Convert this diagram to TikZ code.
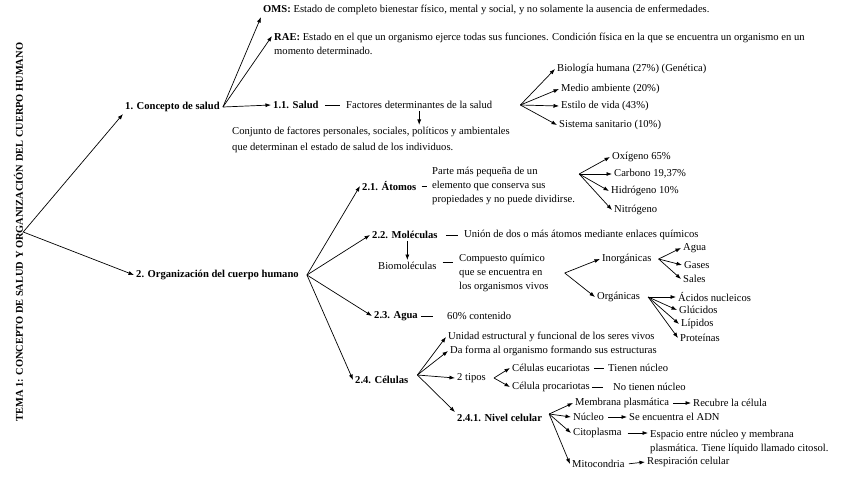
\documentclass[tikz,border=0pt]{standalone}
\usepackage{fontspec}
\setmainfont{Liberation Serif}
\usepackage{tikz}
\usetikzlibrary{arrows.meta}

\tikzset{
	txt/.style={anchor=west, inner sep=2pt, align=left},
	hd/.style={txt, font=\fontsize{10.6}{14}\selectfont\bfseries},
	arr/.style={-{Latex[length=5.5pt,width=4pt]}, line width=0.7pt},
	tie/.style={line width=0.6pt, shorten <=4pt, shorten >=4pt},
}

\begin{document}
\begin{tikzpicture}[x=1pt, y=-1pt, font=\fontsize{10.6}{14}\selectfont]
					\useasboundingbox (0,0) rectangle (848,477);
					
					\node[rotate=90, inner sep=0pt, font=\fontsize{10.4}{12}\selectfont\bfseries] (tema) at (18.5,232) {TEMA 1: CONCEPTO DE SALUD Y ORGANIZACIÓN DEL CUERPO HUMANO};
					\node[hd] (c1) at (123,107) {1. Concepto de salud};
					\node[hd] (c2) at (134,275) {2. Organización del cuerpo humano};
					\draw[arr] (tema.south) -- (c1.south west);
					\draw[arr] (tema.south) -- (c2.west);
					
					\node[txt] (oms) at (261,10) {\textbf{OMS:} Estado de completo bienestar físico, mental y social, y no solamente la ausencia de enfermedades.};
					\node[txt] (rae) at (272,44) {\textbf{RAE:} Estado en el que un organismo ejerce todas sus funciones. Condición física en la que se encuentra un organismo en un\\momento determinado.};
					\node[hd] (s11) at (271,105) {1.1. Salud};
					\node[txt] (fact) at (344,105) {Factores determinantes de la salud};
					\node[txt, font=\fontsize{10.6}{16}\selectfont] (conj) at (230,140) {Conjunto de factores personales, sociales, políticos y ambientales\\que determinan el estado de salud de los individuos.};
					\coordinate (c1o) at ([xshift=1pt]c1.east);
					\draw[arr] (c1o) -- (oms.south west);
					\draw[arr] (c1o) -- ([yshift=8pt]rae.west);
					\draw[arr] (c1o) -- (s11.west);
					\draw[tie] (s11.east) -- (fact.west);
					\draw[arr] (fact.south) -- (fact.south |- conj.north);
					
					\node[txt] (bio) at (555,69) {Biología humana (27\%) (Genética)};
					\node[txt] (medio) at (559,89) {Medio ambiente (20\%)};
					\node[txt] (estilo) at (559,106) {Estilo de vida (43\%)};
					\node[txt] (sist) at (557,125) {Sistema sanitario (10\%)};
					\coordinate (facto) at ([xshift=26pt]fact.east);
					\foreach \n in {bio, medio, estilo, sist}
						\draw[arr] (facto) -- (\n.west);
					
					\node[hd] (at) at (360,186) {2.1. Átomos};
					\node[hd] (mol) at (370,235) {2.2. Moléculas};
					\node[hd] (ag) at (372,316) {2.3. Agua};
					\node[hd] (cel) at (353,380) {2.4. Células};
					\coordinate (c2o) at ([xshift=6pt]c2.east);
					\foreach \n in {at, mol, ag, cel}
						\draw[arr] (c2o) -- (\n.west);
					
					\node[txt] (parte) at (430,186) {Parte más pequeña de un\\elemento que conserva sus\\propiedades y no puede dividirse.};
					\node[txt] (oxi) at (610,157) {Oxígeno 65\%};
					\node[txt] (carb) at (612,174) {Carbono 19,37\%};
					\node[txt] (hidr) at (609,191) {Hidrógeno 10\%};
					\node[txt] (nitr) at (612,210) {Nitrógeno};
					\draw[tie, shorten <=3pt, shorten >=3pt] (at.east) -- (parte.west);
					\coordinate (parteo) at ([xshift=2pt, yshift=12pt]parte.east);
					\foreach \n in {oxi, carb, hidr, nitr}
						\draw[arr] (parteo) -- (\n.west);
					
					\node[txt] (union) at (462,235) {Unión de dos o más átomos mediante enlaces químicos};
					\node[txt] (biom) at (376,266) {Biomoléculas};
					\node[txt] (comp) at (457,273) {Compuesto químico\\que se encuentra en\\los organismos vivos};
					\draw[tie, shorten <=6pt] (mol.east) -- (union.west);
					\draw[arr] (biom.north |- mol.south) -- (biom.north);
					\draw[tie] ([yshift=4pt]biom.east) -- ([yshift=4pt]biom.east -| comp.west);
					
					\node[txt] (inorg) at (600,259) {Inorgánicas};
					\node[txt] (org) at (595,297) {Orgánicas};
					\coordinate (compo) at ([xshift=14pt]comp.east);
					\draw[arr] (compo) -- (inorg.west);
					\draw[arr] (compo) -- (org.west);
					
					\node[txt] (agua) at (681,248) {Agua};
					\node[txt] (gases) at (682,265) {Gases};
					\node[txt] (sales) at (681,279) {Sales};
					\coordinate (inorgo) at ([xshift=5pt]inorg.east);
					\foreach \n in {agua, gases, sales}
						\draw[arr] (inorgo) -- (\n.west);
					
					\node[txt] (acid) at (676,297) {Ácidos nucleicos};
					\node[txt] (gluc) at (677,310) {Glúcidos};
					\node[txt] (lip) at (679,324) {Lípidos};
					\node[txt] (prot) at (678,338) {Proteínas};
					\coordinate (orgo) at ([xshift=6pt]org.east);
					\foreach \n in {acid, gluc, lip, prot}
						\draw[arr] (orgo) -- (\n.west);
					
					\node[txt] (cont) at (445,316) {60\% contenido};
					\draw[tie, shorten <=1pt, shorten >=12pt] (ag.east) -- (cont.west);
					
					\node[txt] (unid) at (446,337) {Unidad estructural y funcional de los seres vivos};
					\node[txt] (forma) at (448,351) {Da forma al organismo formando sus estructuras};
					\node[txt] (tipos) at (455,378) {2 tipos};
					\node[hd] (niv) at (455,418) {2.4.1. Nivel celular};
					\coordinate (celo) at ([xshift=7pt, yshift=5pt]cel.east);
					\foreach \n in {unid, forma, tipos}
						\draw[arr] (celo) -- (\n.west);
					\draw[arr] (celo) -- (niv.north west);
					
					\node[txt] (euc) at (510,368) {Células eucariotas};
					\node[txt] (pro) at (510,387) {Célula procariotas};
					\node[txt] (tnuc) at (606,368) {Tienen núcleo};
					\node[txt] (nnuc) at (611,387) {No tienen núcleo};
					\coordinate (tiposo) at ([xshift=6pt]tipos.east);
					\draw[arr] (tiposo) -- (euc.west);
					\draw[arr] (tiposo) -- (pro.west);
					\draw[tie, shorten <=2pt, shorten >=2pt] (euc.east) -- (tnuc.west);
					\draw[tie, shorten <=0pt, shorten >=8pt] (pro.east) -- (nnuc.west);
					
					\node[txt] (memb) at (573,403) {Membrana plasmática};
					\node[txt] (recub) at (691,403) {Recubre la célula};
					\node[txt] (nucl) at (571,417) {Núcleo};
					\node[txt] (adn) at (627,417) {Se encuentra el ADN};
					\node[txt] (cito) at (571,433) {Citoplasma};
					\node[txt] (esp) at (648,442) {Espacio entre núcleo y membrana\\plasmática. Tiene líquido llamado citosol.};
					\node[txt] (mito) at (570,464) {Mitocondria};
					\node[txt] (resp) at (645,462) {Respiración celular};
					\coordinate (nivo) at ([xshift=5pt, yshift=4pt]niv.east);
					\foreach \n in {memb, nucl, cito, mito}
						\draw[arr] (nivo) -- (\n.west);
					\draw[arr, shorten <=2pt] (memb.east) -- (recub.west);
					\draw[arr, shorten <=2pt] (nucl.east) -- (adn.west);
					\draw[arr, shorten <=4pt] (cito.east) -- ([yshift=9pt]esp.west);
					\draw[arr, shorten <=2pt] (mito.east) -- (resp.west);
				\end{tikzpicture}
\end{document}
